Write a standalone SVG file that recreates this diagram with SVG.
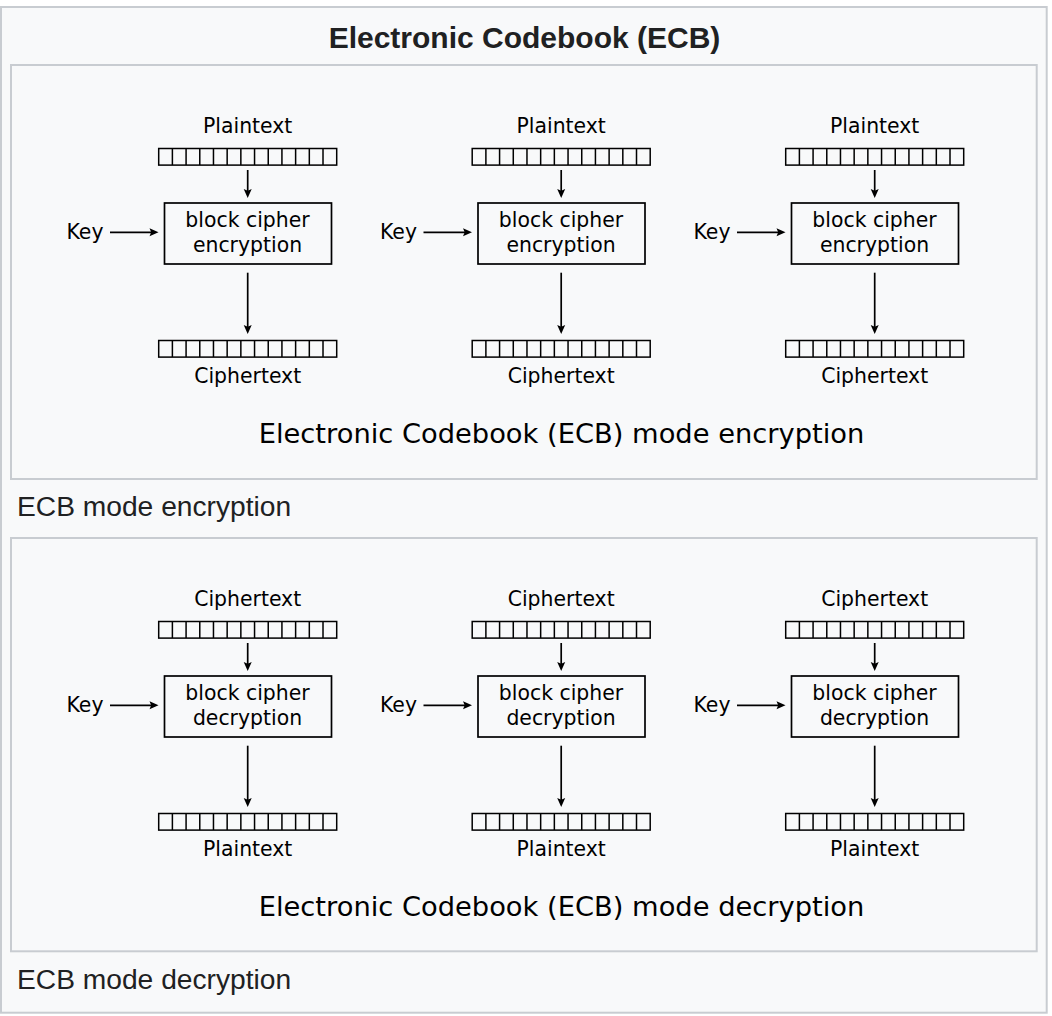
<svg xmlns="http://www.w3.org/2000/svg" xmlns:xlink="http://www.w3.org/1999/xlink" width="1052" height="1016" viewBox="0 0 1052 1016">
<style>
.frame{fill:#f8f9fa;stroke:#c8ccd1;stroke-width:2}
.title{font-family:"Liberation Sans",Arial,sans-serif;font-weight:bold;font-size:30px;fill:#202122;text-anchor:middle}
.cap{font-family:"Liberation Sans",Arial,sans-serif;font-size:28.2px;fill:#202122}
.lbl{font-family:"DejaVu Sans",sans-serif;font-size:20.4px;fill:#000;text-anchor:middle}
.key{font-family:"DejaVu Sans",sans-serif;font-size:20.4px;fill:#000}
.sub{font-family:"DejaVu Sans",sans-serif;font-size:27.3px;fill:#000;text-anchor:middle}
.box{fill:none;stroke:#000;stroke-width:1.7}
.cell{fill:none;stroke:#000;stroke-width:1.5}
.conn line{stroke:#000;stroke-width:1.7;marker-end:url(#ah)}
</style>
<defs>
<marker id="ah" markerUnits="userSpaceOnUse" markerWidth="12" markerHeight="10" viewBox="-6 -5 12 10" refX="0" refY="0" orient="auto">
<path d="M4,0 L-5,-4 L-3.3,0 L-5,4 Z" fill="#000"/>
</marker>
<g id="strip">
<rect class="cell" x="0" y="0" width="178" height="16.6"/>
<path class="cell" d="M13.69,0V16.6M27.38,0V16.6M41.08,0V16.6M54.77,0V16.6M68.46,0V16.6M82.15,0V16.6M95.85,0V16.6M109.54,0V16.6M123.23,0V16.6M136.92,0V16.6M150.62,0V16.6M164.31,0V16.6"/>
</g>
</defs>
<rect width="1052" height="1016" fill="#fff"/>
<rect class="frame" x="1" y="7" width="1045.7" height="1005.7"/>
<text class="title" x="524.5" y="48.3">Electronic Codebook (ECB)</text>
<rect class="frame" x="11" y="65" width="1025.7" height="414"/>
<rect class="frame" x="11" y="538" width="1025.7" height="413.3"/>
<text class="cap" x="17" y="516">ECB mode encryption</text>
<text class="cap" x="17" y="989">ECB mode decryption</text>

<g id="connectors" class="conn">
<line x1="247.7" y1="170" x2="247.7" y2="194"/>
<line x1="110" y1="232.3" x2="154.5" y2="232.3"/>
<line x1="247.7" y1="272.7" x2="247.7" y2="330"/>
<line x1="561.2" y1="170" x2="561.2" y2="194"/>
<line x1="423.5" y1="232.3" x2="468" y2="232.3"/>
<line x1="561.2" y1="272.7" x2="561.2" y2="330"/>
<line x1="874.7" y1="170" x2="874.7" y2="194"/>
<line x1="737" y1="232.3" x2="781.5" y2="232.3"/>
<line x1="874.7" y1="272.7" x2="874.7" y2="330"/>
<line x1="247.7" y1="643" x2="247.7" y2="667"/>
<line x1="110" y1="705.3" x2="154.5" y2="705.3"/>
<line x1="247.7" y1="745.7" x2="247.7" y2="803"/>
<line x1="561.2" y1="643" x2="561.2" y2="667"/>
<line x1="423.5" y1="705.3" x2="468" y2="705.3"/>
<line x1="561.2" y1="745.7" x2="561.2" y2="803"/>
<line x1="874.7" y1="643" x2="874.7" y2="667"/>
<line x1="737" y1="705.3" x2="781.5" y2="705.3"/>
<line x1="874.7" y1="745.7" x2="874.7" y2="803"/>
</g>

<g id="encryption">
<g id="enc-1">
<g id="enc-1-in"><text class="lbl" x="247.7" y="133">Plaintext</text><use xlink:href="#strip" x="158.7" y="148.5"/></g>
<g id="enc-1-key"><text class="key" x="66.5" y="239">Key</text></g>
<g id="enc-1-box"><rect class="box" x="164.5" y="203" width="167" height="61"/><text class="lbl" x="247.5" y="226.5">block cipher</text><text class="lbl" x="247.5" y="251.5">encryption</text></g>
<g id="enc-1-out"><use xlink:href="#strip" x="158.7" y="340.5"/><text class="lbl" x="247.7" y="383">Ciphertext</text></g>
</g>
<g id="enc-2">
<g id="enc-2-in"><text class="lbl" x="561.2" y="133">Plaintext</text><use xlink:href="#strip" x="472.2" y="148.5"/></g>
<g id="enc-2-key"><text class="key" x="380" y="239">Key</text></g>
<g id="enc-2-box"><rect class="box" x="478" y="203" width="167" height="61"/><text class="lbl" x="561" y="226.5">block cipher</text><text class="lbl" x="561" y="251.5">encryption</text></g>
<g id="enc-2-out"><use xlink:href="#strip" x="472.2" y="340.5"/><text class="lbl" x="561.2" y="383">Ciphertext</text></g>
</g>
<g id="enc-3">
<g id="enc-3-in"><text class="lbl" x="874.7" y="133">Plaintext</text><use xlink:href="#strip" x="785.7" y="148.5"/></g>
<g id="enc-3-key"><text class="key" x="693.5" y="239">Key</text></g>
<g id="enc-3-box"><rect class="box" x="791.5" y="203" width="167" height="61"/><text class="lbl" x="874.5" y="226.5">block cipher</text><text class="lbl" x="874.5" y="251.5">encryption</text></g>
<g id="enc-3-out"><use xlink:href="#strip" x="785.7" y="340.5"/><text class="lbl" x="874.7" y="383">Ciphertext</text></g>
</g>
<text class="sub" x="561.5" y="443">Electronic Codebook (ECB) mode encryption</text>
</g>

<g id="decryption">
<g id="dec-1">
<g id="dec-1-in"><text class="lbl" x="247.7" y="606">Ciphertext</text><use xlink:href="#strip" x="158.7" y="621.5"/></g>
<g id="dec-1-key"><text class="key" x="66.5" y="712">Key</text></g>
<g id="dec-1-box"><rect class="box" x="164.5" y="676" width="167" height="61"/><text class="lbl" x="247.5" y="699.5">block cipher</text><text class="lbl" x="247.5" y="724.5">decryption</text></g>
<g id="dec-1-out"><use xlink:href="#strip" x="158.7" y="813.5"/><text class="lbl" x="247.7" y="856">Plaintext</text></g>
</g>
<g id="dec-2">
<g id="dec-2-in"><text class="lbl" x="561.2" y="606">Ciphertext</text><use xlink:href="#strip" x="472.2" y="621.5"/></g>
<g id="dec-2-key"><text class="key" x="380" y="712">Key</text></g>
<g id="dec-2-box"><rect class="box" x="478" y="676" width="167" height="61"/><text class="lbl" x="561" y="699.5">block cipher</text><text class="lbl" x="561" y="724.5">decryption</text></g>
<g id="dec-2-out"><use xlink:href="#strip" x="472.2" y="813.5"/><text class="lbl" x="561.2" y="856">Plaintext</text></g>
</g>
<g id="dec-3">
<g id="dec-3-in"><text class="lbl" x="874.7" y="606">Ciphertext</text><use xlink:href="#strip" x="785.7" y="621.5"/></g>
<g id="dec-3-key"><text class="key" x="693.5" y="712">Key</text></g>
<g id="dec-3-box"><rect class="box" x="791.5" y="676" width="167" height="61"/><text class="lbl" x="874.5" y="699.5">block cipher</text><text class="lbl" x="874.5" y="724.5">decryption</text></g>
<g id="dec-3-out"><use xlink:href="#strip" x="785.7" y="813.5"/><text class="lbl" x="874.7" y="856">Plaintext</text></g>
</g>
<text class="sub" x="561.5" y="916">Electronic Codebook (ECB) mode decryption</text>
</g>
</svg>
